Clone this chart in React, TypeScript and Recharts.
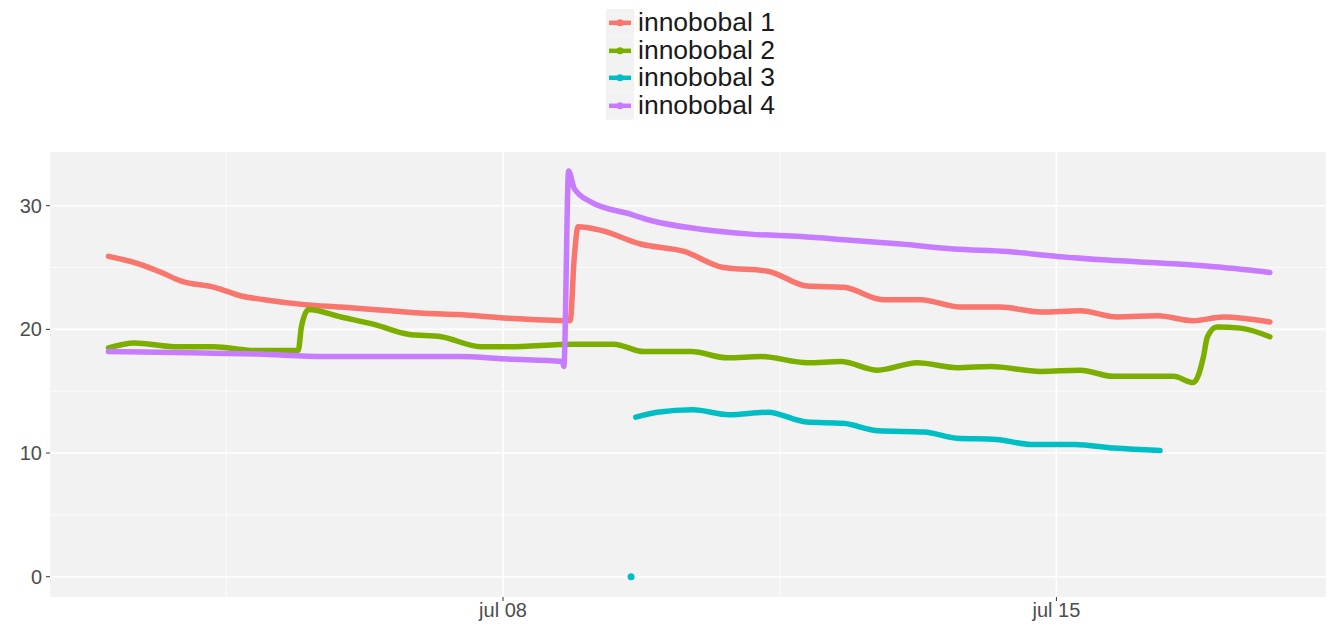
import React from 'react';
import {
  ComposedChart,
  Line,
  Scatter,
  XAxis,
  YAxis,
  CartesianGrid,
  Legend,
} from 'recharts';

// x values are days of July (fractional), y values are readings
const inno1Days = [3.01, 3.39, 3.68, 3.93, 4.35, 4.69, 4.98, 5.49, 5.95, 6.58, 7.0, 7.43, 8.06, 8.85, 8.9, 8.95, 9.24, 9.74, 10.29, 10.79, 11.35, 11.85, 12.31, 12.81, 13.28, 13.79, 14.29, 14.8, 15.3, 15.77, 16.28, 16.73, 17.11, 17.7];
const inno1Values = [25.9, 25.3, 24.6, 23.9, 23.4, 22.7, 22.4, 22.0, 21.8, 21.5, 21.3, 21.2, 20.9, 20.7, 25.7, 28.3, 28.0, 26.9, 26.3, 25.0, 24.7, 23.5, 23.4, 22.4, 22.4, 21.8, 21.8, 21.4, 21.5, 21.0, 21.1, 20.7, 21.0, 20.6];

const inno2Days = [3.01, 3.34, 3.84, 4.35, 4.82, 5.41, 5.45, 5.54, 5.95, 6.37, 6.8, 7.22, 7.72, 8.06, 8.9, 9.4, 9.78, 10.38, 10.84, 11.26, 11.85, 12.27, 12.74, 13.24, 13.75, 14.17, 14.8, 15.3, 15.72, 16.48, 16.73, 16.79, 16.86, 16.91, 17.03, 17.33, 17.7];
const inno2Values = [18.5, 18.9, 18.6, 18.6, 18.3, 18.3, 20.2, 21.6, 21.0, 20.4, 19.6, 19.4, 18.6, 18.6, 18.8, 18.8, 18.2, 18.2, 17.7, 17.8, 17.3, 17.4, 16.7, 17.3, 16.9, 17.0, 16.6, 16.7, 16.2, 16.2, 15.7, 16.2, 17.8, 19.4, 20.2, 20.1, 19.4];

const inno3Days = [9.68, 9.95, 10.4, 10.86, 11.35, 11.84, 12.3, 12.75, 13.33, 13.74, 14.24, 14.68, 15.23, 15.73, 16.31];
const inno3Values = [12.9, 13.3, 13.5, 13.1, 13.3, 12.5, 12.4, 11.8, 11.7, 11.2, 11.1, 10.7, 10.7, 10.4, 10.2];
const inno3LoneDay = 9.62;
const inno3LoneValue = 0;

const inno4Days = [3.01, 4.06, 4.9, 5.74, 6.58, 7.43, 8.06, 8.75, 8.77, 8.83, 8.9, 9.11, 9.62, 9.87, 10.5, 11.13, 11.77, 12.4, 13.03, 13.7, 14.38, 15.01, 15.64, 16.48, 17.11, 17.7];
const inno4Values = [18.2, 18.1, 18.0, 17.8, 17.8, 17.8, 17.6, 17.4, 17.0, 32.8, 31.4, 30.3, 29.3, 28.8, 28.1, 27.7, 27.5, 27.2, 26.9, 26.5, 26.3, 25.9, 25.6, 25.3, 25.0, 24.6];

const seriesNames = ['innobobal 1', 'innobobal 2', 'innobobal 3', 'innobobal 4'];
const seriesColors = ['#F8766D', '#7CAE00', '#00BFC4', '#C77CFF'];

const xTicks = [8, 15];
const yTicks = [0, 10, 20, 30];
const xMinor = [4.5, 11.5];
const yMinor = [5, 15, 25];

const toPoints = (days: number[], values: number[]) =>
  days.map((x, i) => ({ x, y: values[i] }));

const series = [
  toPoints(inno1Days, inno1Values),
  toPoints(inno2Days, inno2Values),
  toPoints(inno3Days, inno3Values),
  toPoints(inno4Days, inno4Values),
];
const lonePoint = [{ x: inno3LoneDay, y: inno3LoneValue }];

const FONT = '"Liberation Sans", Arial, Helvetica, sans-serif';

const LegendBox = () => (
  <div style={{ fontFamily: FONT }}>
    {seriesNames.map((name, i) => (
      <div key={name} style={{ display: 'flex', alignItems: 'center', height: 27.7 }}>
        <svg width={28} height={27.7} style={{ display: 'block' }}>
          <rect x={0} y={0} width={28} height={27.7} fill="#F2F2F2" />
          <line x1={3} x2={25} y1={13.8} y2={13.8} stroke={seriesColors[i]} strokeWidth={4.5} />
          <circle cx={14} cy={13.8} r={3.5} fill={seriesColors[i]} />
        </svg>
        <span style={{ fontSize: 26.5, color: '#1a1a1a', marginLeft: 4, lineHeight: '27.7px' }}>{name}</span>
      </div>
    ))}
  </div>
);

export default function App() {
  return (
    <div style={{ position: 'absolute', left: 0, top: 0, background: '#fff' }}>
      <ComposedChart
        width={1335}
        height={626}
        margin={{ top: 152, right: 9, bottom: 0, left: 0 }}
      >
        <CartesianGrid
          fill="#F2F2F2"
          stroke="#FFFFFF"
          strokeWidth={0.8}
          horizontalValues={yMinor}
          verticalValues={xMinor}
        />
        <CartesianGrid
          stroke="#FFFFFF"
          strokeWidth={1.6}
          horizontalValues={yTicks}
          verticalValues={xTicks}
        />
        <XAxis
          dataKey="x"
          type="number"
          domain={[2.27, 18.41]}
          ticks={xTicks}
          allowDataOverflow
          height={29}
          axisLine={false}
          tickSize={4}
          tickMargin={2}
          tickLine={{ stroke: '#333333' }}
          tick={{ fill: '#4D4D4D', fontSize: 20, fontFamily: FONT }}
          tickFormatter={(v) => `jul ${String(v).padStart(2, '0')}`}
        />
        <YAxis
          dataKey="y"
          type="number"
          domain={[-1.64, 34.34]}
          ticks={yTicks}
          allowDataOverflow
          width={50}
          axisLine={false}
          tickSize={4}
          tickMargin={4}
          tickLine={{ stroke: '#333333' }}
          tick={{ fill: '#4D4D4D', fontSize: 20, fontFamily: FONT }}
        />
        <Legend
          layout="vertical"
          align="center"
          verticalAlign="middle"
          content={<LegendBox />}
          wrapperStyle={{ top: 9, left: 606, width: 230 }}
        />
        {series.map((pts, i) => (
          <Line
            key={seriesNames[i]}
            data={pts}
            dataKey="y"
            name={seriesNames[i]}
            type="monotone"
            stroke={seriesColors[i]}
            strokeWidth={5.5}
            strokeLinejoin="round"
            strokeLinecap="round"
            dot={false}
            activeDot={false}
            isAnimationActive={false}
          />
        ))}
        <Scatter
          data={lonePoint}
          dataKey="y"
          fill={seriesColors[2]}
          shape={(p: any) => <circle cx={p.cx} cy={p.cy} r={3.5} fill={seriesColors[2]} />}
          legendType="none"
          isAnimationActive={false}
        />
      </ComposedChart>
    </div>
  );
}
